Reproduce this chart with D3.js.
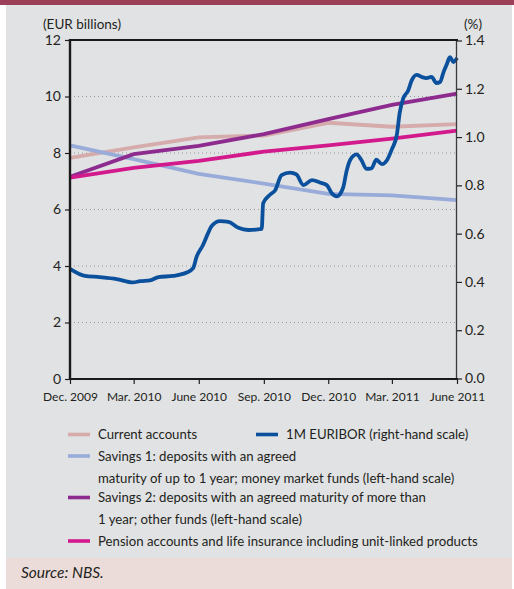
<!DOCTYPE html>
<html>
<head>
<meta charset="utf-8">
<script src="https://cdn.jsdelivr.net/npm/d3@7"></script>
<style>
  body { margin: 0; background: #fff; }
  svg text { font-family: Lato, "Open Sans", sans-serif; fill: #231f20; }
</style>
</head>
<body>
<svg id="chart" width="514" height="589"></svg>
<script>
// quarterly stocks (EUR billions, left-hand scale)
var quarterDates = ["2009-12-01", "2010-03-01", "2010-06-01", "2010-09-01", "2010-12-01", "2011-03-01", "2011-06-01"];
var quarterLabels = ["Dec. 2009", "Mar. 2010", "June 2010", "Sep. 2010", "Dec. 2010", "Mar. 2011", "June 2011"];
var currentAccounts = [7.83, 8.2, 8.55, 8.62, 9.07, 8.93, 9.02];
var savings1 = [8.27, 7.78, 7.26, 6.92, 6.55, 6.5, 6.33];
var savings2 = [7.16, 7.96, 8.25, 8.67, 9.2, 9.7, 10.1];
var pension = [7.13, 7.47, 7.72, 8.05, 8.27, 8.51, 8.79];

// 1M EURIBOR (%, right-hand scale)
var euriborDates = ["2009-12-01", "2009-12-22", "2010-01-12", "2010-02-05", "2010-02-28", "2010-03-10",
  "2010-03-24", "2010-04-05", "2010-04-26", "2010-05-15", "2010-05-24", "2010-05-29", "2010-06-07",
  "2010-06-14", "2010-06-19", "2010-07-01", "2010-07-13", "2010-07-27", "2010-08-10", "2010-08-29",
  "2010-08-31", "2010-09-10", "2010-09-17", "2010-09-26", "2010-10-08", "2010-10-17", "2010-10-27",
  "2010-11-08", "2010-11-19", "2010-11-29", "2010-12-06", "2010-12-13", "2010-12-22", "2010-12-27",
  "2011-01-01", "2011-01-10", "2011-01-17", "2011-01-24", "2011-01-31", "2011-02-07", "2011-02-15",
  "2011-02-22", "2011-03-01", "2011-03-08", "2011-03-12", "2011-03-17", "2011-03-24", "2011-03-29",
  "2011-04-05", "2011-04-12", "2011-04-19", "2011-04-26", "2011-05-03", "2011-05-08", "2011-05-13",
  "2011-05-17", "2011-05-22", "2011-05-27", "2011-06-01"];
var euribor = [0.454, 0.425, 0.42, 0.412, 0.398, 0.403,
  0.406, 0.42, 0.425, 0.439, 0.457, 0.505, 0.553,
  0.601, 0.631, 0.652, 0.649, 0.624, 0.615, 0.62,
  0.726, 0.762, 0.78, 0.842, 0.853, 0.845, 0.801,
  0.822, 0.812, 0.801, 0.767, 0.754, 0.79, 0.86,
  0.905, 0.928, 0.904, 0.868, 0.87, 0.906, 0.888,
  0.904, 0.95, 1.01, 1.1, 1.16, 1.193, 1.235,
  1.258, 1.249, 1.244, 1.249, 1.224, 1.228, 1.269,
  1.297, 1.331, 1.311, 1.328];

var leftTicks = [0, 2, 4, 6, 8, 10, 12];
var rightTicks = [0, 0.2, 0.4, 0.6, 0.8, 1.0, 1.2, 1.4];

var parse = d3.timeParse("%Y-%m-%d");
var svg = d3.select("#chart");

// background panels
svg.append("rect").attr("x", 0).attr("y", 0).attr("width", 514).attr("height", 5).attr("fill", "#9b4058");
svg.append("rect").attr("x", 6).attr("y", 5).attr("width", 506).attr("height", 553).attr("fill", "#e1e2e4");
svg.append("rect").attr("x", 6).attr("y", 558).attr("width", 506).attr("height", 31).attr("fill", "#ecdcd9");

var x = d3.scaleTime().domain([parse(quarterDates[0]), parse(quarterDates[6])]).range([70, 457]);
var yL = d3.scaleLinear().domain([0, 12]).range([379, 40]);
var yR = d3.scaleLinear().domain([0, 1.4]).range([378.5, 40.5]);

// dotted grid on the left scale
svg.append("g").selectAll("line")
    .data(leftTicks.filter(function(d) { return d > 0 && d < 12; }))
  .enter().append("line")
    .attr("x1", 70).attr("x2", 457)
    .attr("y1", function(d) { return yL(d); })
    .attr("y2", function(d) { return yL(d); })
    .attr("stroke", "#9a9a9a").attr("stroke-width", 1).attr("stroke-dasharray", "1,3");

// series
var series = [
  {name: "current", values: currentAccounts, color: "#d5abab"},
  {name: "savings1", values: savings1, color: "#99abd9"},
  {name: "savings2", values: savings2, color: "#8e2b8f"},
  {name: "pension", values: pension, color: "#d31a8d"}
];

var qLine = d3.line()
    .x(function(d, i) { return x(parse(quarterDates[i])); })
    .y(function(d) { return yL(d); });

svg.append("g").selectAll("path")
    .data(series)
  .enter().append("path")
    .attr("d", function(s) { return qLine(s.values); })
    .attr("fill", "none")
    .attr("stroke", function(s) { return s.color; })
    .attr("stroke-width", 3.8);

var eLine = d3.line()
    .curve(d3.curveMonotoneX)
    .x(function(d, i) { return x(parse(euriborDates[i])); })
    .y(function(d) { return yR(d); });

svg.append("path")
    .attr("d", eLine(euribor))
    .attr("fill", "none")
    .attr("stroke", "#0b509c")
    .attr("stroke-width", 3.8)
    .attr("stroke-linejoin", "round");

// axes
var axL = svg.append("g").attr("transform", "translate(70,0)")
    .call(d3.axisLeft(yL).tickValues(leftTicks).tickSize(5).tickPadding(4));
var axR = svg.append("g").attr("transform", "translate(457,0)")
    .call(d3.axisRight(yR).tickValues(rightTicks).tickSize(5).tickPadding(3)
      .tickFormat(d3.format(".1f")));
var axB = svg.append("g").attr("transform", "translate(0,379)")
    .call(d3.axisBottom(x).tickValues(quarterDates.map(parse)).tickSize(5).tickPadding(4)
      .tickFormat(function(d, i) { return quarterLabels[i]; }));

[axL, axR, axB].forEach(function(a) {
  a.select(".domain").remove();
  a.selectAll("text").style("font-size", "14px").attr("fill", "#231f20");
  a.selectAll("line").attr("stroke", "#231f20").attr("stroke-width", 1.2);
});
axB.selectAll("text").style("font-size", "12px").attr("dy", "1.05em");

// frame
svg.append("line").attr("x1", 456.5).attr("x2", 456.5).attr("y1", 40).attr("y2", 379)
    .attr("stroke", "#3a3a3a").attr("stroke-width", 1.3);
svg.append("line").attr("x1", 69).attr("x2", 458).attr("y1", 40).attr("y2", 40)
    .attr("stroke", "#1a1a1a").attr("stroke-width", 2.2);
svg.append("line").attr("x1", 69).attr("x2", 458).attr("y1", 379).attr("y2", 379)
    .attr("stroke", "#1a1a1a").attr("stroke-width", 2.2);
svg.append("line").attr("x1", 70).attr("x2", 70).attr("y1", 39).attr("y2", 380)
    .attr("stroke", "#1a1a1a").attr("stroke-width", 2.4);

// unit labels
svg.append("text").attr("x", 43).attr("y", 29).style("font-size", "13.5px").text("(EUR billions)");
svg.append("text").attr("x", 482).attr("y", 29).attr("text-anchor", "end").style("font-size", "13.5px").text("(%)");

// legend
var legend = [
  {color: "#d5abab", x: 68, y: 434.5, lines: ["Current accounts"]},
  {color: "#0b509c", x: 256, y: 434.5, lines: ["1M EURIBOR (right-hand scale)"]},
  {color: "#99abd9", x: 68, y: 456, lines: ["Savings 1: deposits with an agreed",
     "maturity of up to 1 year; money market funds (left-hand scale)"]},
  {color: "#8e2b8f", x: 68, y: 497.5, lines: ["Savings 2: deposits with an agreed maturity of more than",
     "1 year; other funds (left-hand scale)"]},
  {color: "#d31a8d", x: 68, y: 541, lines: ["Pension accounts and life insurance including unit-linked products"]}
];

var lg = svg.append("g").selectAll("g").data(legend).enter().append("g");
lg.append("line")
    .attr("x1", function(d) { return d.x; })
    .attr("x2", function(d) { return d.x + 22; })
    .attr("y1", function(d) { return d.y; })
    .attr("y2", function(d) { return d.y; })
    .attr("stroke", function(d) { return d.color; })
    .attr("stroke-width", 3.6);
lg.each(function(d) {
  var g = d3.select(this);
  d.lines.forEach(function(t, i) {
    g.append("text")
      .attr("x", d.x + 30)
      .attr("y", d.y + i * 22)
      .attr("dy", "0.35em")
      .style("font-size", "13.2px")
      .text(t);
  });
});

svg.append("text").attr("x", 21).attr("y", 573).attr("dy", "0.35em")
    .style("font-size", "15.5px").style("font-style", "italic").text("Source: NBS.");
</script>
</body>
</html>
